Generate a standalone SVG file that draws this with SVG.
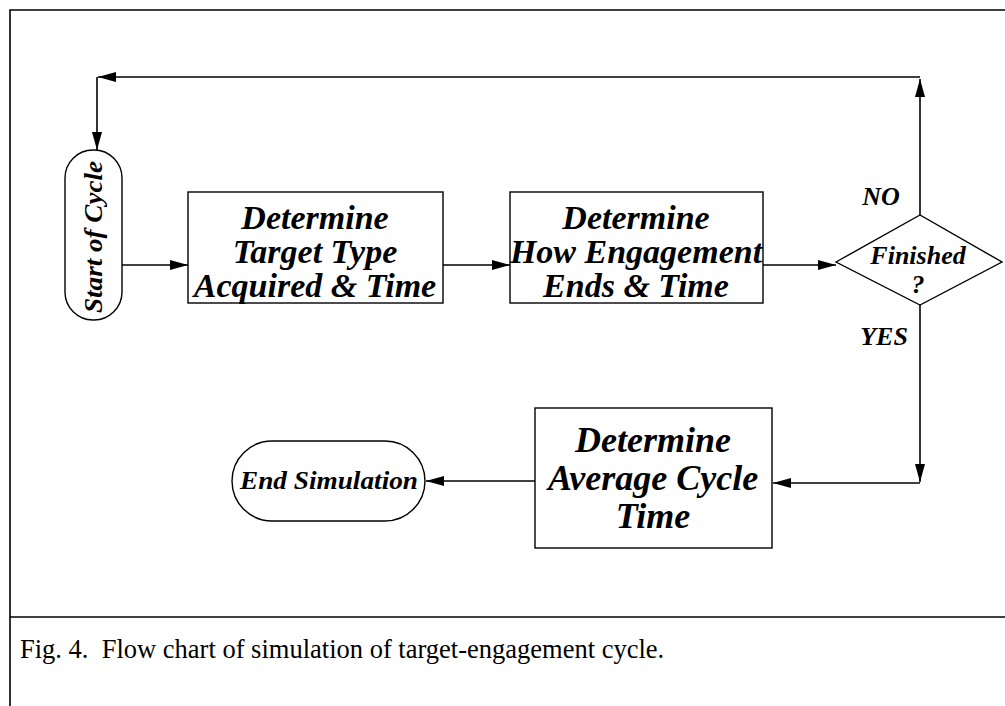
<svg xmlns="http://www.w3.org/2000/svg" width="1005" height="706" viewBox="0 0 1005 706">
<style>
.ln{stroke:#000;stroke-width:1.6;fill:none}
.sh{stroke:#000;stroke-width:1.4;fill:#fff}
.t{font-family:"Liberation Serif","Times New Roman",serif;font-style:italic;font-weight:bold;fill:#000;text-anchor:middle}
.big{font-size:34px}
.big3{font-size:36px}
.sm{font-size:26px}
.cap{font-family:"Liberation Serif","Times New Roman",serif;font-size:26.5px;fill:#000}
</style>
<defs>
<marker id="ah" viewBox="0 0 18 10" refX="18" refY="5" markerWidth="18" markerHeight="10" markerUnits="userSpaceOnUse" orient="auto">
<path d="M0,0 L18,5 L0,10 Z" fill="#000"/>
</marker>
</defs>
<rect width="1005" height="706" fill="#fff"/>
<g id="frame">
<path class="ln" d="M1005,10 H10 V706" stroke-width="2"/>
<path class="ln" d="M10,617 H1005" stroke-width="2"/>
</g>
<g id="connectors">
<line class="ln" x1="122" y1="265" x2="188" y2="265" marker-end="url(#ah)"/>
<line class="ln" x1="443" y1="265" x2="510" y2="265" marker-end="url(#ah)"/>
<line class="ln" x1="763" y1="265" x2="836" y2="265" marker-end="url(#ah)"/>
<line class="ln" x1="920" y1="215" x2="920" y2="79" marker-end="url(#ah)"/>
<line class="ln" x1="920" y1="77" x2="98" y2="77" marker-end="url(#ah)"/>
<line class="ln" x1="97" y1="77" x2="97" y2="150" marker-end="url(#ah)"/>
<line class="ln" x1="920" y1="305" x2="920" y2="482" marker-end="url(#ah)"/>
<line class="ln" x1="920" y1="483" x2="773" y2="483" marker-end="url(#ah)"/>
<line class="ln" x1="535" y1="481" x2="426" y2="481" marker-end="url(#ah)"/>
</g>
<g id="start">
<rect class="sh" x="65" y="150" width="57" height="170" rx="28" ry="28"/>
<text class="t sm" transform="translate(102,237) rotate(-90)" textLength="152" lengthAdjust="spacingAndGlyphs">Start of Cycle</text>
</g>
<g id="box1">
<rect class="sh" x="188" y="192" width="255" height="111"/>
<text class="t big" x="315" y="229">Determine</text>
<text class="t big" x="315" y="263">Target Type</text>
<text class="t big" x="315" y="297">Acquired &amp; Time</text>
</g>
<g id="box2">
<rect class="sh" x="510" y="192" width="253" height="111"/>
<text class="t big" x="636" y="229">Determine</text>
<text class="t big" x="636" y="263">How Engagement</text>
<text class="t big" x="636" y="297">Ends &amp; Time</text>
</g>
<g id="decision">
<polygon class="sh" points="836,262 920,215 1002,262 920,305"/>
<text class="t sm" x="918" y="264">Finished</text>
<text class="t sm" x="918" y="293">?</text>
</g>
<g id="box3">
<rect class="sh" x="535" y="408" width="237" height="140"/>
<text class="t big3" x="653" y="452">Determine</text>
<text class="t big3" x="653" y="490">Average Cycle</text>
<text class="t big3" x="653" y="528">Time</text>
</g>
<g id="end">
<rect class="sh" x="232" y="441" width="193" height="80" rx="40" ry="40"/>
<text class="t sm" x="329" y="489" textLength="178" lengthAdjust="spacingAndGlyphs">End Simulation</text>
</g>
<g id="labels">
<text class="t sm" x="881" y="205">NO</text>
<text class="t sm" x="884" y="345">YES</text>
</g>
<text class="cap" x="20" y="658" xml:space="preserve">Fig. 4.  Flow chart of simulation of target-engagement cycle.</text>
</svg>
